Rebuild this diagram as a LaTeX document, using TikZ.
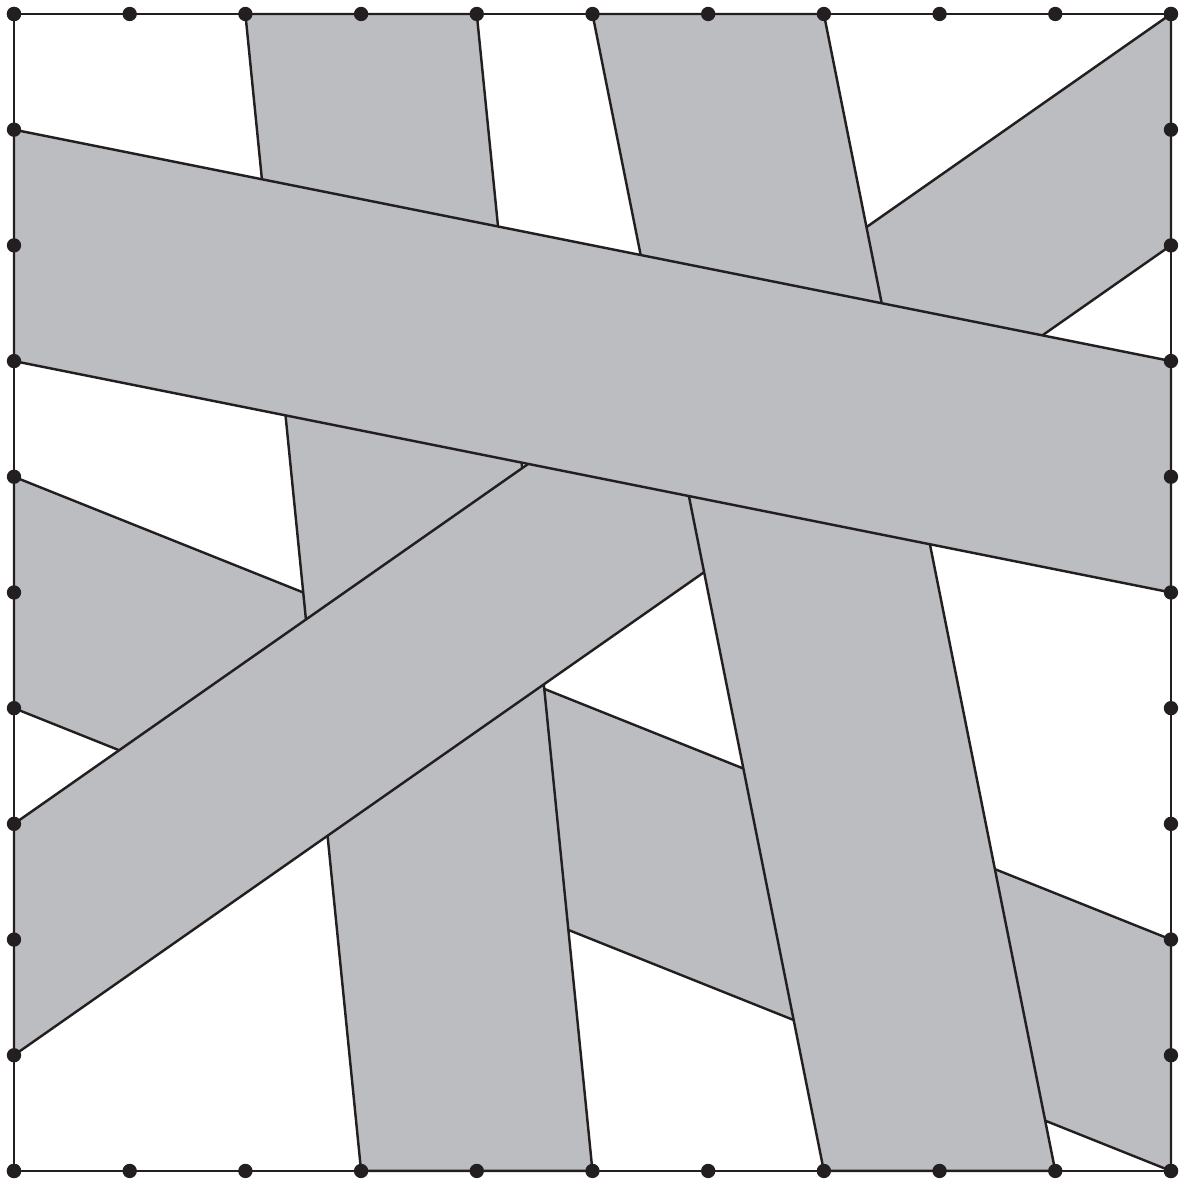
\documentclass[tikz,border=0pt]{standalone}
\usepackage{tikz}
\definecolor{streifgrau}{HTML}{BCBDC0}
\definecolor{tinte}{HTML}{231F20}
\tikzset{
  streifen/.style={fill=streifgrau,draw=tinte,line width=0.6pt,line join=round},
  rand/.style={draw=tinte,line width=0.6pt},
  punkt/.style={fill=tinte},
}

\begin{document}
\begin{tikzpicture}
  \useasboundingbox (-0.121,-0.069) rectangle (10.130,10.121);
  % Streifen von unten nach oben
  \draw[streifen] (0,6)--(10,2)--(10,0)--(0,4)--cycle;
  \draw[streifen] (2,10)--(4,10)--(5,0)--(3,0)--cycle;
  \draw[streifen] (0,3)--(10,10)--(10,8)--(0,1)--cycle;
  \draw[streifen] (5,10)--(7,10)--(9,0)--(7,0)--cycle;
  \draw[streifen] (0,9)--(10,7)--(10,5)--(0,7)--cycle;
  % Rahmen und Punkte
  \draw[rand] (0,0) rectangle (10,10);
  \foreach \i in {0,...,10} {
    \fill[punkt] (\i,0) circle (0.062);
    \fill[punkt] (\i,10) circle (0.062);
    \fill[punkt] (0,\i) circle (0.062);
    \fill[punkt] (10,\i) circle (0.062);
  }
\end{tikzpicture}
\end{document}
